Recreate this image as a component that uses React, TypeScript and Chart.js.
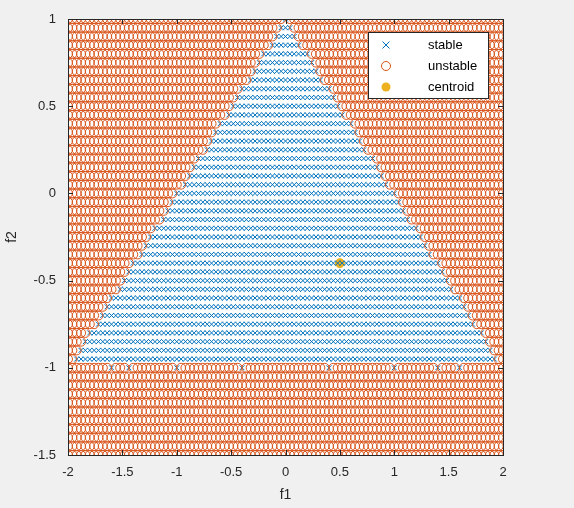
import { useEffect, useRef } from "react"
import { Chart, registerables } from "chart.js"

Chart.register(...registerables)

// sampled filter coefficients (grid of the stability test)
const f1Start = -2, f1Step = 0.04, f1Count = 101
const f2Start = -1.5, f2Step = 0.05, f2Count = 51
// on the f2 = -1 row only these samples passed the test
const edgeStableF1 = [-1.6, -1.44, -1, -0.4, 0.4, 1, 1.4, 1.6]
const centroid = { x: 0.5, y: -0.4 }
const xTicks = [-2, -1.5, -1, -0.5, 0, 0.5, 1, 1.5, 2]
const yTicks = [-1.5, -1, -0.5, 0, 0.5, 1]

const stable: { x: number; y: number }[] = []
const unstable: { x: number; y: number }[] = []
for (let j = 0; j < f2Count; j++) {
  const f2 = +(f2Start + j * f2Step).toFixed(4)
  for (let i = 0; i < f1Count; i++) {
    const f1 = +(f1Start + i * f1Step).toFixed(4)
    let ok = f2 > -1 + 1e-9 && f2 < 1 - Math.abs(f1) + 1e-9
    if (Math.abs(f2 + 1) < 1e-9) ok = edgeStableF1.some(v => Math.abs(v - f1) < 0.021)
    ;(ok ? stable : unstable).push({ x: f1, y: f2 })
  }
}

const font = "13px Arial, 'Liberation Sans', sans-serif"
const fmt = (v: any) => String(+(+v).toFixed(2))

const framePlugin = {
  id: "frame",
  beforeDraw(chart: any) {
    const { ctx, chartArea: a } = chart
    ctx.save()
    ctx.fillStyle = "#f0f0f0"
    ctx.fillRect(0, 0, chart.width, chart.height)
    ctx.fillStyle = "#fff"
    ctx.fillRect(a.left, a.top, a.right - a.left, a.bottom - a.top)
    ctx.restore()
  },
  afterDraw(chart: any) {
    const { ctx, chartArea: a, scales } = chart
    ctx.save()
    ctx.strokeStyle = "#262626"
    ctx.lineWidth = 1
    ctx.strokeRect(a.left + 0.5, a.top + 0.5, a.right - a.left, a.bottom - a.top)
    ctx.beginPath()
    xTicks.forEach(t => {
      const px = Math.round(scales.x.getPixelForValue(t)) + 0.5
      ctx.moveTo(px, a.bottom); ctx.lineTo(px, a.bottom - 5)
      ctx.moveTo(px, a.top); ctx.lineTo(px, a.top + 5)
    })
    yTicks.forEach(t => {
      const py = Math.round(scales.y.getPixelForValue(t)) + 0.5
      ctx.moveTo(a.left, py); ctx.lineTo(a.left + 5, py)
      ctx.moveTo(a.right, py); ctx.lineTo(a.right - 5, py)
    })
    ctx.stroke()
    // legend
    const lx = 368, ly = 32, lw = 120, lh = 66
    ctx.fillStyle = "#fff"
    ctx.fillRect(lx, ly, lw, lh)
    ctx.strokeRect(lx + 0.5, ly + 0.5, lw, lh)
    ctx.font = font
    ctx.fillStyle = "#000"
    ctx.textBaseline = "middle"
    const rows = ["stable", "unstable", "centroid"]
    rows.forEach((r, k) => {
      const y = ly + 13 + k * 21
      const mx = 386
      ctx.lineWidth = 1
      if (k === 0) {
        ctx.strokeStyle = "#0072BD"
        ctx.beginPath()
        ctx.moveTo(mx - 3.5, y - 3.5); ctx.lineTo(mx + 3.5, y + 3.5)
        ctx.moveTo(mx + 3.5, y - 3.5); ctx.lineTo(mx - 3.5, y + 3.5)
        ctx.stroke()
      } else if (k === 1) {
        ctx.strokeStyle = "#D95319"
        ctx.beginPath(); ctx.arc(mx, y, 4.5, 0, Math.PI * 2); ctx.stroke()
      } else {
        ctx.fillStyle = "#EDB120"
        ctx.beginPath(); ctx.arc(mx, y, 4.5, 0, Math.PI * 2); ctx.fill()
        ctx.fillStyle = "#000"
      }
      ctx.fillText(r, 428, y)
    })
    ctx.restore()
  },
}

export default function App() {
  const canvasRef = useRef<HTMLCanvasElement>(null)
  const chartRef = useRef<Chart | null>(null)

  useEffect(() => {
    document.body.style.margin = "0"
    if (!canvasRef.current) return
    if (chartRef.current) chartRef.current.destroy()

    const tickFont = { size: 13, family: "Arial, 'Liberation Sans'" }
    chartRef.current = new Chart(canvasRef.current, {
      type: "scatter",
      data: {
        datasets: [
          {
            label: "unstable",
            data: unstable,
            pointStyle: "circle",
            radius: 4.5,
            borderColor: "#D95319",
            backgroundColor: "rgba(0,0,0,0)",
            borderWidth: 1,
          },
          {
            label: "stable",
            data: stable,
            pointStyle: "crossRot",
            radius: 3.5,
            borderColor: "#0072BD",
            borderWidth: 1,
          },
          {
            label: "centroid",
            data: [centroid],
            pointStyle: "circle",
            radius: 4.5,
            borderColor: "#EDB120",
            backgroundColor: "#EDB120",
          },
        ],
      },
      options: {
        animation: false,
        responsive: false,
        events: [],
        layout: { padding: { left: 0, top: 19, right: 71, bottom: 0 } },
        plugins: { legend: { display: false }, tooltip: { enabled: false } },
        scales: {
          x: {
            min: -2, max: 2,
            grid: { display: false },
            border: { display: false },
            afterBuildTicks: (s: any) => { s.ticks = xTicks.map(v => ({ value: v })) },
            afterFit: (s: any) => { s.height = 53 },
            ticks: { color: "#262626", font: tickFont, padding: 2, maxRotation: 0, callback: fmt },
            title: { display: true, text: "f1", color: "#262626", font: { ...tickFont, size: 14 }, padding: { top: 4 } },
          },
          y: {
            min: -1.5, max: 1,
            grid: { display: false },
            border: { display: false },
            afterBuildTicks: (s: any) => { s.ticks = yTicks.map(v => ({ value: v })) },
            afterFit: (s: any) => { s.width = 68 },
            ticks: { color: "#262626", font: tickFont, padding: 4, callback: fmt },
            title: { display: true, text: "f2", color: "#262626", font: { ...tickFont, size: 14 }, padding: { bottom: 4 } },
          },
        },
      },
      plugins: [framePlugin],
    } as any)

    return () => {
      chartRef.current?.destroy()
      chartRef.current = null
    }
  }, [])

  return <canvas ref={canvasRef} width={574} height={508} style={{ display: "block" }} />
}
